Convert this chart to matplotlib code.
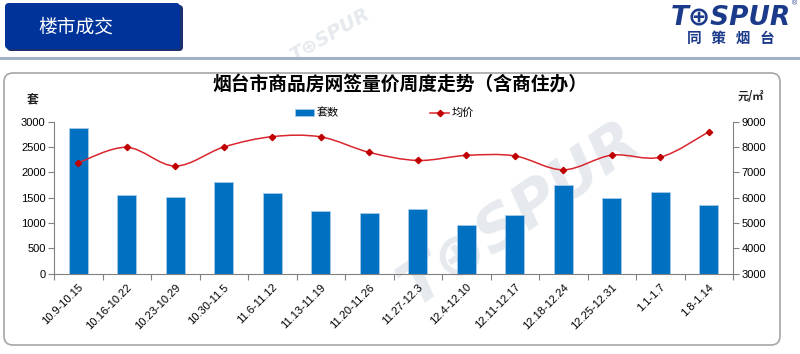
import matplotlib
matplotlib.use('Agg')
import matplotlib.pyplot as plt
from matplotlib.patches import FancyBboxPatch, Rectangle, PathPatch
from matplotlib.path import Path
from matplotlib.lines import Line2D
import numpy as np

weeks = ['10.9-10.15', '10.16-10.22', '10.23-10.29', '10.30-11.5', '11.6-11.12',
         '11.13-11.19', '11.20-11.26', '11.27-12.3', '12.4-12.10', '12.11-12.17',
         '12.18-12.24', '12.25-12.31', '1.1-1.7', '1.8-1.14']
units = [2880, 1560, 1520, 1810, 1590, 1240, 1190, 1280, 960, 1150, 1750, 1500, 1610, 1360]
prices = [7380, 7990, 7250, 8000, 8410, 8400, 7790, 7470, 7670, 7650, 7100, 7680, 7600, 8600]

title = '烟台市商品房网签量价周度走势（含商住办）'
header = '楼市成交'
left_unit = '套'
right_unit = '元/㎡'
bar_name = '套数'
line_name = '均价'

CJK = ['Noto Sans CJK SC', 'DejaVu Sans']
LAT = ['Liberation Sans', 'DejaVu Sans']
plt.rcParams['font.family'] = LAT

W, H = 800, 354
fig = plt.figure(figsize=(W / 100, H / 100), dpi=100)
fig.patch.set_facecolor('white')

# background canvas in pixel coordinates
bg = fig.add_axes([0, 0, 1, 1], zorder=0)
bg.set_xlim(0, W)
bg.set_ylim(H, 0)
bg.axis('off')

# faint watermarks
wm_color = '#e6eaee'
for x, y, fs, rot in [(520, 215, 44, 35), (330, 35, 14, 30)]:
    bg.text(x, y, 'T⊕SPUR', fontsize=fs, color=wm_color, fontweight='bold', style='italic',
            rotation=rot, ha='center', va='center', family=['DejaVu Sans'], zorder=0)

# header box
bg.add_patch(FancyBboxPatch((7, 5), 176, 46, boxstyle='round,pad=0,rounding_size=4',
                            facecolor='#1c2f6e', edgecolor='none', zorder=2))
bg.add_patch(FancyBboxPatch((5, 3), 175, 46, boxstyle='round,pad=0,rounding_size=4',
                            facecolor='#003399', edgecolor='none', zorder=3))
bg.text(76, 27, header, fontsize=13.5, color='white', ha='center', va='center',
        family=CJK, zorder=4)
bg.plot([0, W], [58, 58], color='#9fb2c8', lw=2.2, zorder=2)

# logo
bg.text(731, 17, 'T⊕SPUR', fontsize=19, color='#1b3a8a', fontweight='heavy', style='italic',
        ha='center', va='center', family=['DejaVu Sans'], zorder=4)
bg.text(794, 4, '®', fontsize=5, color='#1b3a8a', ha='center', va='center', zorder=4)
bg.text(731, 38, '同   策   烟   台', fontsize=10.5, color='#1b3a8a', fontweight='heavy',
        ha='center', va='center', family=CJK, zorder=4)

# chart frame
bg.add_patch(FancyBboxPatch((4, 73), 776, 272, boxstyle='round,pad=0,rounding_size=9',
                            facecolor='none', edgecolor='#a6a6a6', lw=1.2, zorder=3))

# title and unit labels
bg.text(400, 85, title, fontsize=13.5, color='black', ha='center', va='center',
        family=CJK, fontweight='bold', zorder=4)
bg.text(33, 99, left_unit, fontsize=8.5, fontweight='bold', color='#222222',
        ha='center', va='center', family=CJK, zorder=4)
bg.text(751, 96, right_unit, fontsize=8, fontweight='bold', color='#222222',
        ha='center', va='center', family=CJK, zorder=4)

# main axes
x0, x1, y0, y1 = 54, 733, 121.7, 273.7
ax = fig.add_axes([x0 / W, 1 - y1 / H, (x1 - x0) / W, (y1 - y0) / H], zorder=5)
ax.patch.set_alpha(0)
n = len(weeks)
xs = np.arange(n)
ax.bar(xs, units, width=0.4, color='#0070c0', edgecolor='#a9cbe8', linewidth=0.6, zorder=3)
ax.set_xlim(-0.5, n - 0.5)
ax.set_ylim(0, 3000)
ax.set_yticks(np.arange(0, 3001, 500))
ax.set_xticks(xs)
ax.set_xticklabels(weeks, rotation=45, ha='right', rotation_mode='anchor', fontsize=8)
ax.tick_params(axis='x', length=0, pad=6)
ax.set_xticks(np.arange(-0.5, n, 1), minor=True)
ax.tick_params(axis='x', which='minor', length=4, color='#808080', width=0.8)
ax.tick_params(axis='y', length=4, color='#808080', width=0.8, labelsize=8, pad=2)
for s in ['top', 'right']:
    ax.spines[s].set_visible(False)
for s in ['left', 'bottom']:
    ax.spines[s].set_color('#808080')
    ax.spines[s].set_linewidth(0.8)

ax2 = ax.twinx()
ax2.set_zorder(6)
ax2.patch.set_alpha(0)
ax2.set_ylim(3000, 9000)
ax2.set_yticks(np.arange(3000, 9001, 1000))
ax2.tick_params(axis='y', length=4, color='#808080', width=0.8, labelsize=8, pad=2)
for s in ['top', 'left', 'bottom']:
    ax2.spines[s].set_visible(False)
ax2.spines['right'].set_color('#808080')
ax2.spines['right'].set_linewidth(0.8)

# smoothed line (Bezier through the data points)
pts = np.column_stack([xs, prices]).astype(float)
verts = [pts[0]]
codes = [Path.MOVETO]
for i in range(n - 1):
    p0 = pts[i - 1] if i > 0 else pts[i]
    p1 = pts[i]
    p2 = pts[i + 1]
    p3 = pts[i + 2] if i + 2 < n else pts[i + 1]
    c1 = p1 + (p2 - p0) / 6
    c2 = p2 - (p3 - p1) / 6
    verts += [c1, c2, p2]
    codes += [Path.CURVE4] * 3
ax2.add_patch(PathPatch(Path(verts, codes), facecolor='none', edgecolor='#d9262e', lw=1.1,
                        transform=ax2.transData, zorder=4))
ax2.plot(xs, prices, linestyle='none', marker='D', markersize=3.2, color='#c00000', zorder=5)

# legend
handles = [Rectangle((0, 0), 1, 1, facecolor='#0070c0', edgecolor='#a9cbe8', lw=0.6),
           Line2D([0], [0], color='#d9262e', lw=1.1, marker='D', markersize=3.2,
                  markerfacecolor='#c00000', markeredgecolor='#c00000')]
fig.legend(handles, [bar_name, line_name], loc='center', bbox_to_anchor=(384.5 / W, 1 - 113 / H),
           ncol=2, frameon=False, handlelength=1.7, handleheight=0.6, handletextpad=0.25,
           columnspacing=8.2, prop={'family': CJK, 'size': 8})

fig.savefig('out.png', dpi=100)
